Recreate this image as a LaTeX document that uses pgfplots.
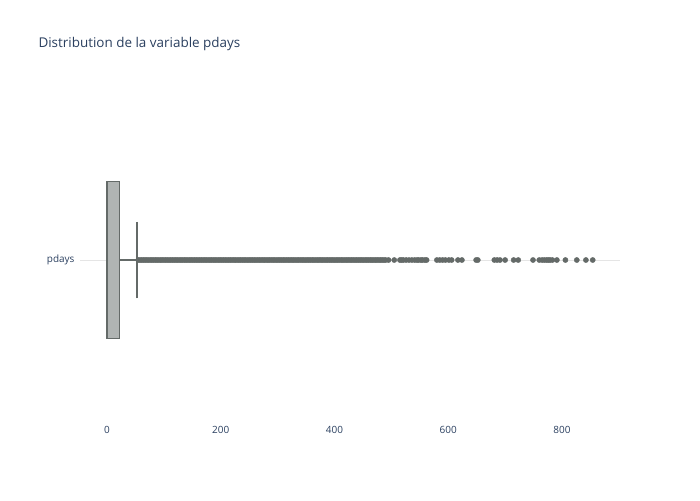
\documentclass[border=0pt]{standalone}
\usepackage{pgfplots}
\pgfplotsset{compat=1.18}
\usepgfplotslibrary{statistics}
\usepackage{fontspec}
\setmainfont{Open Sans}
\definecolor{tickc}{RGB}{42,63,95}
\definecolor{boxl}{RGB}{100,106,104}
\definecolor{boxf}{RGB}{176,180,179}
\begin{document}
\begin{tikzpicture}
\begin{axis}[
  scale only axis, width=540bp, height=320bp,
  xmin=-47.5, xmax=902, ymin=0, ymax=2,
  axis line style={draw=none}, tick style={draw=none},
  xtick={0,200,400,600,800}, ytick={1}, yticklabels={pdays},
  ymajorgrids, grid style={draw=gray!20},
  ticklabel style={font=\fontsize{10}{11}\selectfont, text=tickc},
  /pgf/number format/assume math mode=true,
  x tick label style={yshift=-3bp},
  y tick label style={xshift=-2bp},
  clip=false,
]
\useasboundingbox (rel axis cs:-0.1481,-0.25) rectangle (rel axis cs:1.1481,1.3125);
\node[anchor=west, font=\fontsize{13.5}{15}\selectfont, text=tickc] at (rel axis cs:-0.0833,1.175) {Distribution de la variable pdays};
\addplot+[boxplot prepared={lower whisker=0, lower quartile=0, median=0, upper quartile=22, upper whisker=53, draw position=1, box extend=0.98, whisker extend=0.48}, draw=boxl, fill=boxf, line width=1.5pt, mark=none] coordinates {};
\addplot[only marks, mark=*, mark size=2.6bp, draw=boxl, fill=boxl] table[row sep=\\] {
x y\\
55 1\\ 58 1\\ 61 1\\ 64 1\\ 67 1\\ 70 1\\ 73 1\\ 76 1\\ 79 1\\ 82 1\\ 85 1\\ 88 1\\ 91 1\\ 94 1\\ 97 1\\ 100 1\\
103 1\\ 106 1\\ 109 1\\ 112 1\\ 115 1\\ 118 1\\ 121 1\\ 124 1\\ 127 1\\ 130 1\\ 133 1\\ 136 1\\ 139 1\\ 142 1\\ 145 1\\ 148 1\\
151 1\\ 154 1\\ 157 1\\ 160 1\\ 163 1\\ 166 1\\ 169 1\\ 172 1\\ 175 1\\ 178 1\\ 181 1\\ 184 1\\ 187 1\\ 190 1\\ 193 1\\ 196 1\\
199 1\\ 202 1\\ 205 1\\ 208 1\\ 211 1\\ 214 1\\ 217 1\\ 220 1\\ 223 1\\ 226 1\\ 229 1\\ 232 1\\ 235 1\\ 238 1\\ 241 1\\ 244 1\\
247 1\\ 250 1\\ 253 1\\ 256 1\\ 259 1\\ 262 1\\ 265 1\\ 268 1\\ 271 1\\ 274 1\\ 277 1\\ 280 1\\ 283 1\\ 286 1\\ 289 1\\ 292 1\\
295 1\\ 298 1\\ 301 1\\ 304 1\\ 307 1\\ 310 1\\ 313 1\\ 316 1\\ 319 1\\ 322 1\\ 325 1\\ 328 1\\ 331 1\\ 334 1\\ 337 1\\ 340 1\\
343 1\\ 346 1\\ 349 1\\ 352 1\\ 355 1\\ 358 1\\ 361 1\\ 364 1\\ 367 1\\ 370 1\\ 373 1\\ 376 1\\ 379 1\\ 382 1\\ 385 1\\ 388 1\\
391 1\\ 394 1\\ 397 1\\ 400 1\\ 403 1\\ 406 1\\ 409 1\\ 412 1\\ 415 1\\ 418 1\\ 421 1\\ 424 1\\ 427 1\\ 430 1\\ 433 1\\ 436 1\\
439 1\\ 442 1\\ 445 1\\ 448 1\\ 451 1\\ 454 1\\ 457 1\\ 460 1\\ 463 1\\ 466 1\\ 469 1\\ 472 1\\ 475 1\\ 478 1\\ 481 1\\ 484 1\\
487 1\\ 490 1\\ 495 1\\ 505 1\\ 515 1\\ 518 1\\ 521 1\\ 526 1\\ 531 1\\ 536 1\\ 541 1\\ 545 1\\ 548 1\\ 552 1\\ 555 1\\ 559 1\\
562 1\\ 580 1\\ 585 1\\ 590 1\\ 595 1\\ 601 1\\ 606 1\\ 617 1\\ 624 1\\ 649 1\\ 652 1\\ 681 1\\ 686 1\\ 691 1\\ 700 1\\ 715 1\\
723 1\\ 749 1\\ 760 1\\ 765 1\\ 769 1\\ 773 1\\ 776 1\\ 779 1\\ 783 1\\ 791 1\\ 806 1\\ 826 1\\ 842 1\\ 854 1\\
};
\end{axis}
\end{tikzpicture}
\end{document}
